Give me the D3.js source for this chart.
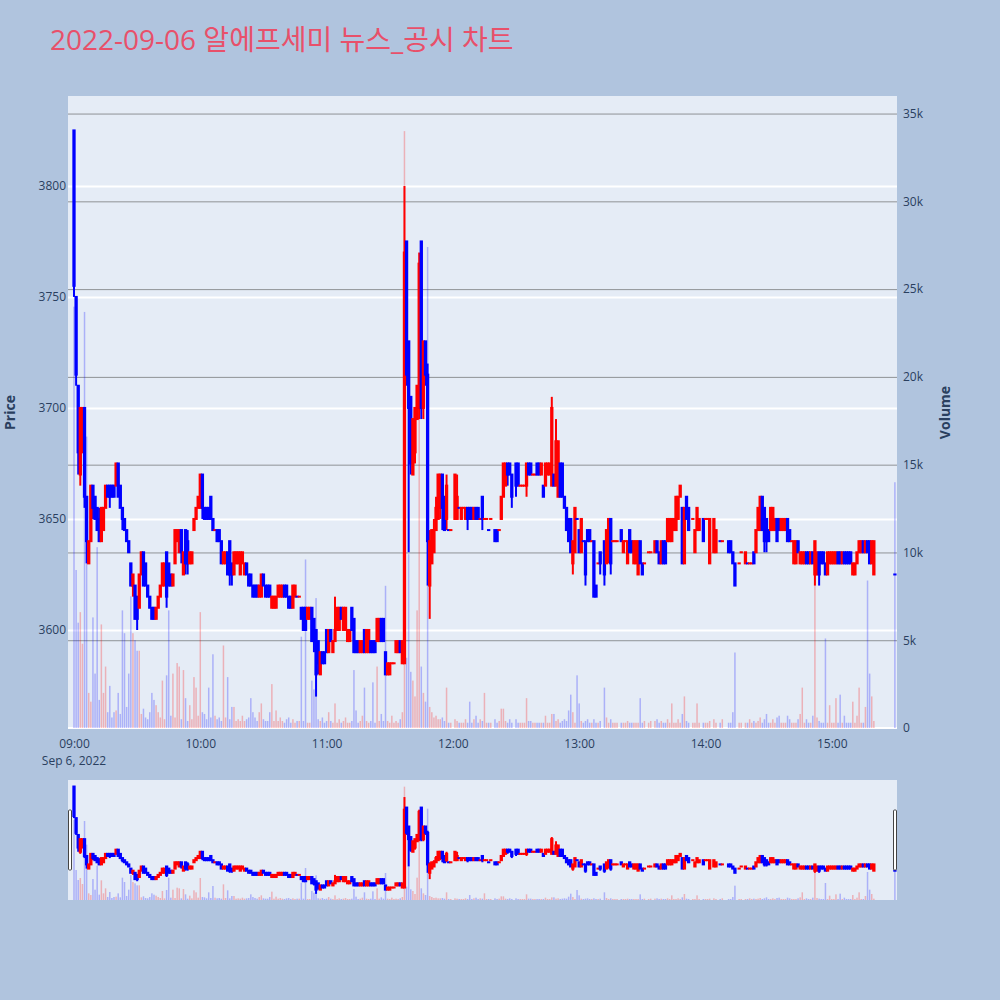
<!DOCTYPE html>
<html>
<head>
<meta charset="utf-8">
<script src="https://d3js.org/d3.v7.min.js"></script>
<style>
  body { margin: 0; background: #b0c4de; }
  svg { display: block; }
  text { font-family: "Open Sans", "Noto Sans CJK KR", sans-serif; }
</style>
</head>
<body>
<script>
// 1-minute candles, minutes after 09:00 (2022-09-06)
var minute = [
  0,1,2,3,4,5,6,7,8,9,
  10,11,12,13,14,15,16,17,18,19,
  20,21,22,23,24,25,26,27,28,29,
  30,31,32,33,34,35,36,37,38,39,
  40,41,42,43,44,45,46,47,48,49,
  50,51,52,53,54,55,56,57,58,59,
  60,61,62,63,64,65,66,67,68,69,
  70,71,72,73,74,75,76,77,78,79,
  80,81,82,83,84,85,86,87,88,89,
  90,91,92,93,94,95,96,97,98,99,
  100,101,102,103,104,105,106,107,108,109,
  110,111,112,113,114,115,116,117,118,119,
  120,121,122,123,124,125,126,127,128,129,
  130,131,132,133,134,135,136,137,138,139,
  140,141,142,143,144,145,146,147,148,149,
  150,151,152,153,154,155,156,157,158,159,
  160,161,162,163,164,165,166,167,168,169,
  170,171,172,173,174,175,176,177,178,179,
  181,182,183,184,185,186,187,188,189,190,
  191,192,193,194,195,196,197,198,200,201,
  202,203,204,205,206,207,208,210,211,212,
  213,214,215,216,217,218,219,220,221,222,
  223,224,225,226,227,228,229,230,231,232,
  233,234,235,236,237,238,239,240,241,242,
  243,244,245,246,247,248,249,250,252,253,
  254,255,256,257,258,260,261,262,263,264,
  265,266,267,268,269,270,271,273,274,276,
  277,278,279,280,281,282,283,284,285,286,
  287,288,289,290,291,292,294,295,296,297,
  299,300,301,302,304,305,307,308,311,312,
  313,314,316,317,319,320,321,322,323,324,
  325,326,327,328,329,330,331,332,333,334,
  335,336,337,338,339,340,341,342,343,344,
  345,346,347,348,349,350,351,352,353,354,
  355,356,357,358,359,360,361,362,363,364,
  365,366,367,368,369,370,371,372,373,374,
  375,376,377,378,379,380,390
];
var open = [
  3825,3750,3710,3670,3680,3700,3660,3630,3640,3665,
  3660,3655,3650,3640,3645,3655,3665,3665,3665,3665,
  3665,3675,3665,3655,3650,3645,3640,3630,3620,3620,
  3615,3610,3625,3635,3630,3620,3615,3610,3610,3605,
  3610,3615,3620,3620,3635,3630,3625,3620,3630,3640,
  3635,3645,3625,3645,3640,3630,3630,3645,3650,3655,
  3655,3670,3655,3655,3655,3660,3650,3645,3645,3645,
  3640,3630,3630,3635,3640,3630,3625,3630,3630,3625,
  3630,3625,3630,3625,3625,3620,3620,3620,3615,3615,
  3625,3620,3620,3620,3610,3610,3610,3615,3615,3615,
  3620,3620,3615,3615,3610,3615,3615,3615,3610,3610,
  3610,3605,3605,3610,3605,3600,3595,3580,3590,3590,
  3600,3590,3600,3590,3595,3600,3600,3610,3600,3600,
  3595,3595,3610,3605,3595,3595,3590,3590,3600,3590,
  3590,3595,3595,3595,3595,3595,3605,3605,3590,3580,
  3580,3585,3585,3590,3590,3595,3585,3585,3775,3730,
  3705,3670,3680,3695,3700,3775,3700,3730,3715,3620,
  3630,3635,3645,3650,3655,3670,3660,3650,3645,3645,
  3650,3650,3655,3650,3655,3650,3655,3655,3655,3650,
  3655,3655,3650,3660,3650,3650,3645,3650,3645,3645,
  3645,3650,3660,3665,3675,3675,3670,3675,3675,3665,
  3665,3665,3665,3675,3675,3670,3670,3675,3675,3670,
  3665,3665,3670,3670,3665,3670,3665,3660,3675,3675,
  3660,3655,3650,3650,3630,3635,3650,3645,3635,3640,
  3640,3645,3645,3640,3640,3620,3630,3635,3640,3630,
  3635,3650,3640,3640,3640,3645,3635,3640,3630,3645,
  3640,3630,3630,3625,3640,3630,3630,3635,3635,3635,
  3640,3635,3630,3640,3640,3640,3640,3640,3645,3645,
  3650,3660,3655,3630,3660,3655,3650,3635,3645,3645,
  3650,3650,3650,3630,3635,3635,3640,3640,3640,3640,
  3635,3630,3630,3635,3630,3630,3630,3630,3635,3635,
  3645,3645,3660,3655,3650,3645,3645,3645,3645,3650,
  3650,3645,3645,3645,3650,3645,3640,3630,3630,3640,
  3630,3630,3630,3635,3635,3630,3635,3625,3625,3635,
  3635,3635,3630,3625,3630,3630,3630,3630,3635,3635,
  3630,3635,3635,3635,3635,3625,3625,3630,3635,3635,
  3640,3635,3640,3640,3630,3625,3625
];
var high = [
  3825,3750,3710,3700,3700,3700,3660,3640,3665,3665,
  3660,3655,3655,3655,3655,3665,3665,3665,3665,3665,
  3675,3675,3665,3655,3650,3645,3640,3630,3625,3620,
  3615,3625,3635,3635,3630,3620,3615,3610,3610,3610,
  3615,3620,3630,3630,3635,3630,3625,3625,3645,3645,
  3645,3645,3635,3645,3645,3635,3635,3650,3655,3660,
  3670,3670,3655,3655,3655,3660,3650,3645,3645,3645,
  3640,3635,3635,3635,3640,3630,3635,3635,3635,3635,
  3635,3630,3630,3625,3625,3620,3620,3620,3620,3625,
  3625,3620,3620,3620,3615,3615,3615,3620,3620,3620,
  3620,3620,3615,3615,3620,3620,3615,3615,3610,3610,
  3610,3610,3610,3610,3605,3600,3595,3590,3590,3590,
  3600,3600,3600,3595,3615,3610,3610,3610,3610,3610,
  3600,3600,3610,3605,3595,3595,3595,3595,3600,3600,
  3600,3595,3595,3595,3605,3605,3605,3605,3590,3585,
  3585,3585,3585,3595,3595,3595,3595,3800,3775,3730,
  3705,3695,3700,3710,3770,3775,3730,3730,3720,3645,
  3645,3650,3660,3670,3670,3670,3660,3670,3645,3645,
  3670,3670,3655,3655,3655,3655,3655,3655,3655,3655,
  3655,3655,3650,3660,3650,3650,3645,3650,3645,3645,
  3645,3660,3675,3675,3675,3675,3670,3675,3675,3665,
  3665,3665,3675,3675,3675,3670,3670,3675,3675,3675,
  3665,3675,3675,3675,3705,3670,3695,3685,3675,3675,
  3660,3655,3650,3650,3640,3655,3650,3645,3650,3640,
  3640,3645,3645,3640,3640,3620,3630,3635,3640,3645,
  3650,3650,3640,3640,3640,3645,3640,3640,3640,3645,
  3640,3640,3640,3640,3640,3630,3630,3635,3635,3640,
  3640,3635,3640,3640,3640,3650,3650,3650,3650,3660,
  3660,3665,3655,3655,3660,3655,3650,3645,3655,3650,
  3650,3650,3650,3650,3650,3645,3640,3640,3640,3640,
  3635,3630,3630,3635,3635,3630,3630,3630,3635,3645,
  3655,3660,3660,3655,3650,3645,3655,3655,3650,3650,
  3650,3650,3650,3650,3650,3645,3640,3640,3640,3640,
  3635,3635,3635,3635,3635,3635,3635,3640,3635,3635,
  3635,3635,3630,3635,3635,3635,3635,3635,3635,3635,
  3635,3635,3635,3635,3635,3630,3630,3635,3640,3640,
  3640,3640,3640,3640,3640,3640,3625
];
var low = [
  3750,3710,3670,3665,3680,3655,3630,3630,3640,3650,
  3650,3645,3640,3640,3645,3655,3660,3655,3660,3660,
  3665,3660,3655,3645,3645,3640,3635,3620,3615,3605,
  3600,3610,3625,3620,3620,3615,3610,3605,3605,3605,
  3610,3615,3620,3620,3610,3620,3620,3620,3630,3640,
  3635,3630,3625,3625,3625,3630,3630,3645,3650,3655,
  3655,3650,3650,3650,3650,3650,3645,3645,3640,3640,
  3630,3630,3630,3625,3620,3620,3625,3630,3630,3625,
  3630,3625,3625,3620,3620,3615,3615,3615,3615,3615,
  3620,3615,3615,3615,3610,3610,3610,3615,3615,3615,
  3615,3615,3610,3610,3610,3615,3615,3615,3605,3600,
  3600,3605,3605,3595,3590,3570,3580,3580,3585,3585,
  3590,3590,3595,3590,3595,3600,3600,3605,3600,3600,
  3595,3595,3600,3590,3590,3590,3590,3590,3590,3590,
  3590,3590,3590,3590,3595,3595,3595,3595,3580,3580,
  3580,3585,3585,3590,3590,3590,3585,3585,3710,3635,
  3670,3670,3675,3695,3695,3695,3695,3710,3620,3605,
  3630,3635,3645,3650,3650,3645,3645,3645,3645,3645,
  3650,3650,3655,3650,3655,3650,3645,3650,3650,3650,
  3650,3650,3650,3645,3650,3650,3645,3650,3640,3640,
  3645,3650,3660,3665,3665,3670,3655,3660,3665,3665,
  3665,3665,3660,3670,3670,3670,3670,3670,3670,3670,
  3660,3665,3670,3670,3665,3665,3665,3660,3660,3660,
  3655,3645,3640,3635,3625,3635,3650,3635,3635,3640,
  3620,3640,3640,3640,3615,3615,3630,3625,3620,3630,
  3630,3625,3640,3640,3640,3640,3635,3640,3630,3635,
  3635,3630,3630,3625,3630,3625,3630,3635,3635,3635,
  3635,3630,3630,3630,3630,3640,3640,3640,3645,3645,
  3650,3660,3630,3630,3650,3645,3650,3635,3645,3645,
  3640,3650,3650,3630,3635,3635,3640,3640,3635,3635,
  3630,3620,3630,3635,3630,3630,3630,3630,3630,3635,
  3645,3645,3645,3635,3635,3640,3645,3645,3645,3640,
  3645,3645,3645,3645,3640,3640,3640,3630,3630,3635,
  3630,3630,3630,3630,3630,3630,3630,3620,3625,3620,
  3630,3630,3625,3625,3630,3630,3630,3630,3630,3630,
  3630,3630,3630,3630,3630,3625,3625,3630,3635,3635,
  3635,3635,3635,3630,3630,3625,3625
];
var close = [
  3755,3715,3680,3700,3700,3660,3640,3640,3665,3655,
  3650,3645,3640,3655,3655,3665,3660,3660,3660,3660,
  3675,3660,3655,3650,3645,3640,3635,3620,3625,3605,
  3605,3625,3635,3620,3620,3615,3610,3605,3605,3610,
  3615,3620,3630,3630,3615,3620,3620,3625,3645,3645,
  3645,3635,3635,3630,3630,3635,3635,3650,3655,3660,
  3670,3655,3650,3650,3650,3650,3645,3645,3640,3640,
  3630,3635,3635,3625,3625,3625,3635,3635,3635,3635,
  3635,3630,3625,3620,3620,3615,3615,3615,3620,3625,
  3620,3615,3615,3615,3615,3615,3615,3620,3620,3620,
  3615,3615,3610,3610,3620,3620,3615,3615,3605,3600,
  3600,3610,3610,3595,3595,3580,3585,3590,3585,3585,
  3590,3600,3595,3595,3600,3610,3610,3605,3610,3610,
  3600,3600,3600,3590,3590,3590,3595,3595,3590,3600,
  3600,3590,3590,3590,3605,3605,3595,3595,3580,3585,
  3585,3585,3585,3595,3595,3590,3595,3770,3715,3700,
  3675,3695,3700,3710,3765,3700,3730,3715,3640,3640,
  3645,3645,3655,3670,3670,3655,3645,3665,3645,3645,
  3670,3660,3655,3655,3655,3655,3650,3650,3650,3655,
  3650,3650,3650,3650,3650,3650,3645,3650,3640,3640,
  3645,3660,3675,3675,3670,3670,3660,3665,3665,3665,
  3665,3665,3675,3670,3670,3670,3670,3670,3670,3675,
  3660,3675,3675,3675,3700,3665,3685,3685,3660,3660,
  3655,3645,3640,3635,3640,3655,3650,3635,3650,3640,
  3625,3640,3640,3640,3615,3615,3630,3630,3625,3645,
  3650,3630,3640,3640,3640,3640,3640,3640,3640,3635,
  3635,3640,3640,3640,3630,3625,3630,3635,3635,3640,
  3635,3630,3640,3630,3630,3650,3650,3650,3650,3660,
  3660,3665,3630,3655,3650,3645,3650,3645,3655,3650,
  3640,3650,3650,3650,3650,3645,3640,3640,3635,3635,
  3630,3620,3630,3635,3635,3630,3630,3630,3630,3645,
  3655,3660,3645,3640,3640,3640,3655,3655,3650,3640,
  3645,3650,3650,3650,3640,3640,3640,3640,3640,3635,
  3635,3635,3635,3630,3630,3635,3630,3640,3635,3625,
  3630,3630,3625,3635,3635,3635,3635,3635,3630,3630,
  3635,3630,3630,3630,3630,3630,3630,3635,3640,3640,
  3635,3640,3635,3630,3640,3640,3625
];
var volume = [
  24000,9000,6000,6600,4800,23700,16600,2000,1500,6300,
  3100,10300,1600,5900,2000,3500,900,2400,600,900,
  1000,2000,800,6700,5400,1200,3100,7500,5400,5000,
  4400,4400,800,1100,600,500,900,2000,1600,1300,
  900,600,2700,500,3000,6700,700,3100,600,3700,
  3500,500,3300,1700,400,1300,500,2900,2300,700,
  6600,900,800,500,2300,600,4200,700,500,600,
  400,4700,600,2900,500,1200,1200,400,500,400,
  700,400,500,600,1700,900,600,400,900,1400,
  500,400,400,900,2500,400,1000,400,600,400,
  300,500,600,300,500,300,400,400,5200,400,
  9600,300,300,2700,2200,7400,500,400,600,300,
  400,900,400,300,1400,300,500,300,400,600,
  300,300,400,3300,1000,300,400,700,2300,400,
  300,400,2600,300,3500,400,800,400,8100,400,
  300,700,300,400,300,500,900,34000,4000,9900,
  3200,2700,1800,6700,20000,3500,2000,1500,27400,1200,
  900,600,700,500,500,600,400,2300,300,300,
  500,400,300,300,300,500,300,1500,300,500,
  700,300,500,400,2000,300,300,300,500,300,
  400,1100,1100,400,300,500,300,500,300,300,
  300,300,1700,400,400,300,300,300,300,300,
  300,700,300,300,800,800,400,500,300,400,
  500,400,1000,1900,900,300,3000,1400,400,300,
  400,500,300,300,500,300,300,400,2300,600,
  300,500,300,300,300,300,300,300,400,300,
  300,300,300,300,1700,300,400,300,400,400,
  500,300,400,300,300,500,300,1400,300,300,
  500,300,800,1800,400,300,300,300,1400,300,
  300,300,300,400,500,300,300,500,300,300,
  900,4300,300,300,300,300,500,300,400,300,
  400,600,300,500,800,300,300,500,300,600,
  700,300,300,300,700,500,300,300,300,500,
  800,2300,300,500,300,300,700,9000,600,400,
  300,300,5100,300,1300,300,300,1700,300,1900,
  300,700,300,300,300,1500,300,700,2300,300,
  300,1200,8400,3100,1800,400,14000
];
var priceTicks = [3600, 3650, 3700, 3750, 3800];
var volumeTicks = [0, 5000, 10000, 15000, 20000, 25000, 30000, 35000];

var UP = "#ff0000", DOWN = "#0000ff";
var plot = {left: 68, right: 897, top: 96, bottom: 729};
var slider = {top: 780, bottom: 900};
var start = new Date(2022, 8, 6, 9, 0);
function toTime(m) { return new Date(start.getTime() + m * 60000); }

[open, high, low, close, volume].forEach(function (a) {
  if (a.length !== minute.length) console.error("length mismatch", a.length, minute.length);
});

var bars = minute.map(function (m, i) {
  var o = open[i], c = close[i];
  var up = c > o || (c === o && i > 0 && c >= close[i - 1]);
  return {t: toTime(m), o: o, h: high[i], l: low[i], c: c, v: volume[i], up: up};
});

var x = d3.scaleTime().domain([toTime(-2.85), toTime(391)]).range([plot.left, plot.right]);
var yPrice = d3.scaleLinear().domain([3555.4, 3840.5]).range([plot.bottom, plot.top]);
var yVol = d3.scaleLinear().domain([0, 36000]).range([728, plot.top]);
var yPriceS = d3.scaleLinear().domain([3555.4, 3840.5]).range([slider.bottom, slider.top]);
var yVolS = d3.scaleLinear().domain([0, 36000]).range([slider.bottom, slider.top]);

var svg = d3.select("body").append("svg").attr("width", 1000).attr("height", 1000);
svg.append("rect").attr("width", 1000).attr("height", 1000).attr("fill", "#b0c4de");

svg.append("text")
  .attr("x", 50).attr("y", 50)
  .attr("font-size", 28).attr("fill", "#e8506a")
  .text("2022-09-06 알에프세미 뉴스_공시 차트");

svg.append("defs").append("clipPath").attr("id", "clip")
  .append("rect").attr("x", plot.left).attr("y", plot.top)
  .attr("width", plot.right - plot.left).attr("height", plot.bottom - plot.top);

svg.append("rect")
  .attr("x", plot.left).attr("y", plot.top)
  .attr("width", plot.right - plot.left).attr("height", plot.bottom - plot.top)
  .attr("fill", "#e5ecf6");

// grids
var gridP = svg.append("g").attr("transform", "translate(" + plot.left + ",0)")
  .call(d3.axisLeft(yPrice).tickValues(priceTicks).tickSize(-(plot.right - plot.left)).tickFormat(""));
gridP.select(".domain").remove();
gridP.selectAll("line").attr("stroke", "#ffffff").attr("stroke-width", 2);

var gridV = svg.append("g").attr("transform", "translate(" + plot.left + ",0)")
  .call(d3.axisLeft(yVol).tickValues(volumeTicks.slice(1)).tickSize(-(plot.right - plot.left)).tickFormat(""));
gridV.select(".domain").remove();
gridV.selectAll("line").attr("stroke", "#8f9296").attr("stroke-width", 1);

svg.append("line")
  .attr("x1", plot.left).attr("x2", plot.right)
  .attr("y1", yVol(0)).attr("y2", yVol(0))
  .attr("stroke", "#ffffff").attr("stroke-width", 2);

function drawTraces(g, yP, yV) {
  g.append("g").selectAll("rect").data(bars).join("rect")
    .attr("x", function (d) { return x(d.t) - 0.75; })
    .attr("width", 1.5)
    .attr("y", function (d) { return yV(d.v); })
    .attr("height", function (d) { return yV(0) - yV(d.v); })
    .attr("fill", function (d) { return d.up ? UP : DOWN; })
    .attr("fill-opacity", 0.25);
  var c = g.append("g");
  c.selectAll("line").data(bars).join("line")
    .attr("x1", function (d) { return x(d.t); })
    .attr("x2", function (d) { return x(d.t); })
    .attr("y1", function (d) { return yP(d.h); })
    .attr("y2", function (d) { return yP(d.l); })
    .attr("stroke", function (d) { return d.up ? UP : DOWN; })
    .attr("stroke-width", 2);
  c.selectAll("rect").data(bars).join("rect")
    .attr("x", function (d) { return x(d.t) - 1.65; })
    .attr("width", 3.3)
    .attr("y", function (d) { return yP(Math.max(d.o, d.c)) - 1; })
    .attr("height", function (d) { return Math.abs(yP(d.o) - yP(d.c)) + 2; })
    .attr("fill", function (d) { return d.up ? UP : DOWN; });
}

drawTraces(svg.append("g").attr("clip-path", "url(#clip)"), yPrice, yVol);

// axes
var tickColor = "#2a3f5f";
var ax = svg.append("g").attr("transform", "translate(0," + plot.bottom + ")")
  .call(d3.axisBottom(x).ticks(d3.timeHour.every(1)).tickFormat(d3.timeFormat("%H:%M")).tickSize(0).tickPadding(10));
var ay = svg.append("g").attr("transform", "translate(" + plot.left + ",0)")
  .call(d3.axisLeft(yPrice).tickValues(priceTicks).tickFormat(d3.format("d")).tickSize(0).tickPadding(2));
var ay2 = svg.append("g").attr("transform", "translate(" + plot.right + ",0)")
  .call(d3.axisRight(yVol).tickValues(volumeTicks).tickFormat(d3.format("~s")).tickSize(0).tickPadding(6));
[ax, ay, ay2].forEach(function (a) {
  a.select(".domain").remove();
  a.selectAll("text").attr("fill", tickColor).attr("font-size", 12)
    .attr("font-family", "'Open Sans', sans-serif");
});

svg.append("text").attr("x", x(toTime(0))).attr("y", 765)
  .attr("text-anchor", "middle").attr("font-size", 12).attr("fill", tickColor)
  .text("Sep 6, 2022");

svg.append("text")
  .attr("transform", "translate(15," + (plot.top + plot.bottom) / 2 + ") rotate(-90)")
  .attr("text-anchor", "middle").attr("font-size", 14).attr("font-weight", "bold")
  .attr("fill", tickColor).text("Price");
svg.append("text")
  .attr("transform", "translate(950," + (plot.top + plot.bottom) / 2 + ") rotate(-90)")
  .attr("text-anchor", "middle").attr("font-size", 14).attr("font-weight", "bold")
  .attr("fill", tickColor).text("Volume");

// range slider
svg.append("rect")
  .attr("x", plot.left).attr("y", slider.top)
  .attr("width", plot.right - plot.left).attr("height", slider.bottom - slider.top)
  .attr("fill", "#e5ecf6");
svg.append("defs").append("clipPath").attr("id", "clipS")
  .append("rect").attr("x", plot.left).attr("y", slider.top)
  .attr("width", plot.right - plot.left).attr("height", slider.bottom - slider.top);
drawTraces(svg.append("g").attr("clip-path", "url(#clipS)"), yPriceS, yVolS);

[plot.left + 0.5, plot.right - 3.5].forEach(function (hx) {
  svg.append("rect").attr("x", hx).attr("y", 810).attr("width", 3).attr("height", 60)
    .attr("rx", 1).attr("fill", "#ffffff").attr("stroke", "#444").attr("stroke-width", 1);
});
</script>
</body>
</html>
